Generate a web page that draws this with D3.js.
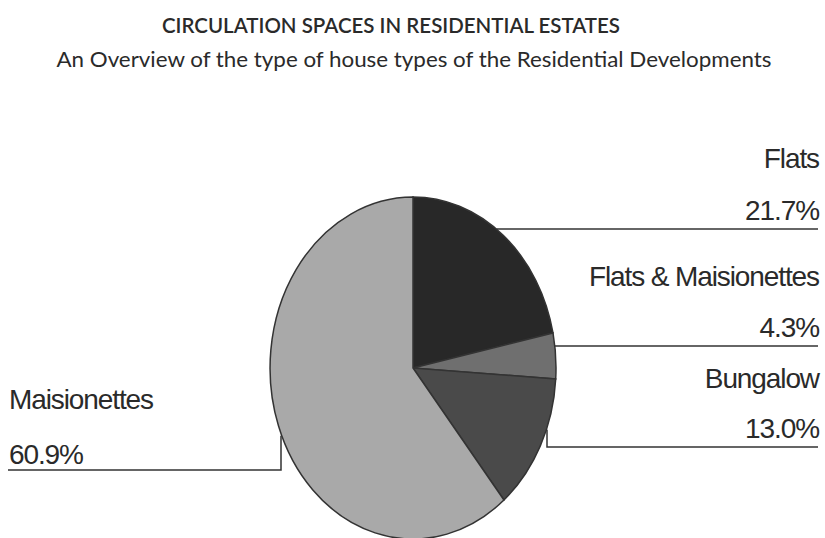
<!DOCTYPE html>
<html>
<head>
<meta charset="utf-8">
<script src="https://cdn.jsdelivr.net/npm/d3@7"></script>
<style>
  body { margin: 0; background: #fff; }
  .lbl { font-family: "Liberation Sans", Arial, sans-serif; font-size: 28px; letter-spacing: -1.1px; fill: #2a2a2a; }
  .ttl { font-family: "Comic Sans MS", "Lato", sans-serif; fill: #2a2a2a; }
</style>
</head>
<body>
<div id="chart"></div>
<script>
// data
let categories = ["Flats", "Flats & Maisionettes", "Bungalow", "Maisionettes"];
let shares = [21.7, 4.3, 13.0, 60.9];
let sliceColors = ["#282828", "#6f6f6f", "#4a4a4a", "#a9a9a9"];
let titleText = "CIRCULATION SPACES IN RESIDENTIAL ESTATES";
let subtitleText = "An Overview of the type of house types of the Residential Developments";

let width = 825, height = 538;
let cx = 413, cy = 368, rx = 143, ry = 171;

// label layout: side, label baseline, value baseline, leader y, optional elbow
let labelPos = [
  { side: "right", ly: 168, vy: 220, lineY: 229 },
  { side: "right", ly: 286, vy: 337, lineY: 346 },
  { side: "right", ly: 388, vy: 438, lineY: 447, elbowX: 547 },
  { side: "left", ly: 409, vy: 464, lineY: 470, elbowX: 281 },
];

let svg = d3.select("#chart").append("svg")
  .attr("width", width)
  .attr("height", height);

svg.append("text").attr("class", "ttl")
  .attr("x", 391).attr("y", 33)
  .attr("text-anchor", "middle")
  .attr("font-size", 21)
  .attr("font-weight", 600)
  .attr("textLength", 458).attr("lengthAdjust", "spacingAndGlyphs")
  .text(titleText);

svg.append("text").attr("class", "ttl")
  .attr("x", 414).attr("y", 67)
  .attr("text-anchor", "middle")
  .attr("font-size", 21)
  .attr("textLength", 715).attr("lengthAdjust", "spacingAndGlyphs")
  .text(subtitleText);

let pie = d3.pie().sort(null).value((d) => d);
let arcs = pie(shares);
let arc = d3.arc().innerRadius(0).outerRadius(1);

// unit pie squashed into the ellipse
let g = svg.append("g")
  .attr("transform", "translate(" + cx + "," + cy + ") scale(" + rx + "," + ry + ")");

g.selectAll("path.slice")
  .data(arcs)
  .enter()
  .append("path")
  .attr("class", "slice")
  .attr("d", arc)
  .attr("fill", (d, i) => sliceColors[i])
  .attr("stroke", "#333")
  .attr("stroke-width", 1.5)
  .attr("vector-effect", "non-scaling-stroke");

// where a horizontal/vertical line meets the ellipse
function edgeXAt(y, side) {
  let t = (y - cy) / ry;
  let dx = rx * Math.sqrt(Math.max(0, 1 - t * t));
  return side === "right" ? cx + dx : cx - dx;
}
function edgeYAt(x) {
  let t = (x - cx) / rx;
  return cy + ry * Math.sqrt(Math.max(0, 1 - t * t));
}

let rightX = 818, leftX = 8;

labelPos.forEach((p, i) => {
  let pts;
  if (p.elbowX != null) {
    pts = [[p.elbowX, edgeYAt(p.elbowX) + 2], [p.elbowX, p.lineY],
      [p.side === "right" ? rightX : leftX, p.lineY]];
  } else {
    pts = [[edgeXAt(p.lineY, p.side), p.lineY],
      [p.side === "right" ? rightX : leftX, p.lineY]];
  }
  svg.append("path")
    .attr("d", d3.line()(pts))
    .attr("fill", "none")
    .attr("stroke", "#333")
    .attr("stroke-width", 1.5);

  let tx = p.side === "right" ? rightX + 1 : 9;
  let anchor = p.side === "right" ? "end" : "start";
  svg.append("text").attr("class", "lbl")
    .attr("x", tx).attr("y", p.ly)
    .attr("text-anchor", anchor)
    .text(categories[i]);
  svg.append("text").attr("class", "lbl")
    .attr("x", tx).attr("y", p.vy)
    .attr("text-anchor", anchor)
    .text(d3.format(".1f")(shares[i]) + "%");
});
</script>
</body>
</html>
